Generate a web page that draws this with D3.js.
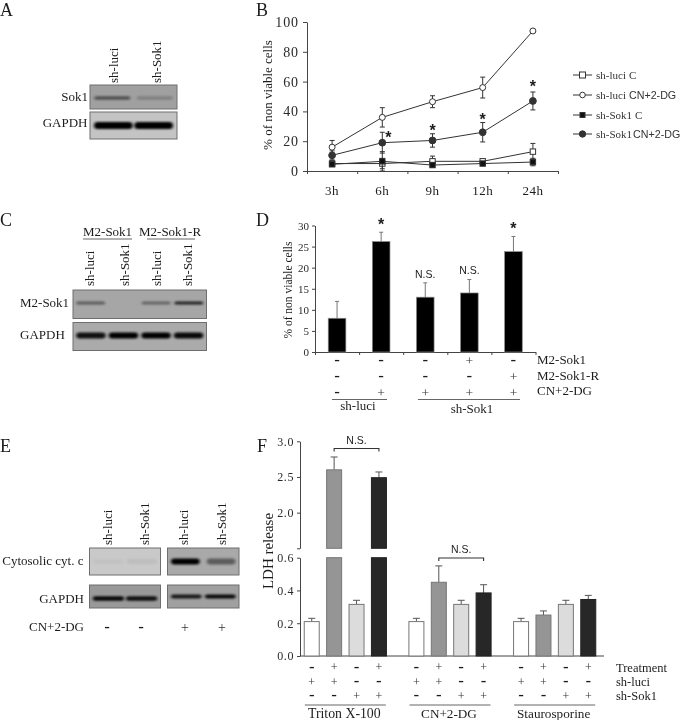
<!DOCTYPE html>
<html><head><meta charset="utf-8">
<script src="https://cdn.jsdelivr.net/npm/d3@7/dist/d3.min.js"></script>
<style>
html,body{margin:0;padding:0;background:#fff}
svg{display:block;filter:blur(0.35px)}
text{font-family:"Liberation Serif",serif;fill:#1c1c1c}
.sans{font-family:"Liberation Sans",sans-serif}
.axis path,.axis line{stroke:#444;stroke-width:1;fill:none}
.axis text{font-family:"Liberation Serif",serif;fill:#2a2a2a}
</style></head><body>
<script>
// ---------- Panel B data ----------
const hours = ["3h","6h","9h","12h","24h"];
const luciCtrl = [5,5,6.5,6.5,13];
const luciCtrlErr = [2,3.5,3.5,1.5,5.5];
const luciTreat = [16,36,46.5,56,94];
const luciTreatErr = [4.5,6.5,4,7,0.6];
const sokCtrl = [4.5,6.5,4,5,6];
const sokCtrlErr = [1.5,6.5,1.5,1,2.5];
const sokTreat = [10.5,19,20.5,26,47];
const sokTreatErr = [3,7,4.5,6.5,6];
const starsB = [null,24.8,29.6,37,59];
const legendB = ["sh-luci C","sh-luci CN+2-DG","sh-Sok1 C","sh-Sok1 CN+2-DG"];
// ---------- Panel D data ----------
const barsD = [8,26.2,13,14,23.8];
const errTopD = [12,28.4,16.4,17.2,27.4];
const marksD = ["","*","N.S.","N.S.","*"];
const rowM2 = ["-","-","-","+","-"];
const rowM2R = ["-","-","-","-","+"];
const rowCn = ["-","+","+","+","+"];
// ---------- Panel F data ----------
const groupsF = ["Triton X-100","CN+2-DG","Staurosporine"];
const barsF = [[0.21,2.6,0.315,2.49],[0.21,0.45,0.315,0.385],[0.21,0.25,0.315,0.345]];
const errTopF = [[0.23,2.78,0.34,2.57],[0.23,0.55,0.34,0.435],[0.23,0.275,0.34,0.37]];
const fillsF = ["#ffffff","#959595","#dcdcdc","#272727"];
const rowTreat = ["-","+","-","+"];
const rowLuci = ["+","+","-","-"];
const rowSok = ["-","-","+","+"];
// ---------- Blot band intensities (0..1) ----------
const blotASok = [0.5,0.2];
const blotAGapdh = [1,1];
const blotCM2 = [0.45,0,0.4,0.8];
const blotCGapdh = [0.9,1,1,0.95];
const blotETop1 = [0.03,0.05];
const blotETop2 = [1,0.45];
const blotEGapdh1 = [0.95,0.9];
const blotEGapdh2 = [0.85,0.95];

const svg = d3.select("body").append("svg").attr("width",680).attr("height",720);
const defs = svg.append("defs");
defs.append("filter").attr("id","blur").attr("x","-20%").attr("y","-150%").attr("width","140%").attr("height","400%")
  .append("feGaussianBlur").attr("stdDeviation","1.8 1");

function label(t,x,y,o={}){
  const s = svg.append("text").attr("x",x).attr("y",y).text(t)
    .attr("font-size",o.size||13).attr("text-anchor",o.anchor||"start");
  if(o.sans) s.attr("class","sans");
  if(o.weight) s.attr("font-weight",o.weight);
  if(o.fill) s.style("fill",o.fill);
  return s;
}
function vlabel(t,x,y,o={}){
  return label(t,0,0,o).attr("x",null).attr("y",null).attr("transform",`translate(${x},${y}) rotate(-90)`);
}
function panel(t,x,y){ label(t,x,y,{size:18}); }
function sign(t,x,y,size){
  const s=size||12;
  if(t==="-") svg.append("text").attr("class","sans").attr("transform",`translate(${x},${y+2.7}) scale(1.7,1)`)
    .attr("text-anchor","middle").attr("font-size",10).attr("font-weight","bold").text("-");
  else svg.append("text").attr("x",x).attr("y",y+s*0.36).attr("text-anchor","middle")
    .attr("font-size",s).text("+").style("fill","#333");
}
function hline(x1,x2,y,c){ svg.append("line").attr("x1",x1).attr("x2",x2).attr("y1",y).attr("y2",y).attr("stroke",c||"#666").attr("stroke-width",1); }

let clipN=0;
function blot(vals,x0,x1,y0,y1,bg,bandY,bandH,pad){
  const g = svg.append("g");
  const id="c"+(clipN++);
  defs.append("clipPath").attr("id",id).append("rect").attr("x",x0).attr("y",y0).attr("width",x1-x0).attr("height",y1-y0);
  g.append("rect").attr("x",x0).attr("y",y0).attr("width",x1-x0).attr("height",y1-y0).attr("fill",bg)
    .attr("stroke","#6e6e6e").attr("stroke-width",1);
  const lanes = d3.scaleBand().domain(d3.range(vals.length)).range([x0,x1]).paddingInner(pad===undefined?0.12:pad).paddingOuter(0.1);
  g.append("g").attr("clip-path",`url(#${id})`).selectAll("rect").data(vals).join("rect")
    .attr("x",(d,i)=>lanes(i)).attr("width",lanes.bandwidth())
    .attr("y",bandY-bandH/2).attr("height",bandH).attr("rx",bandH/2)
    .attr("fill","#050505").attr("opacity",d=>d).attr("filter","url(#blur)");
}

// ---------- Panel A ----------
panel("A",0,16);
vlabel("sh-luci",118,83); vlabel("sh-Sok1",161,83);
label("Sok1",88,101,{anchor:"end"}); label("GAPDH",87.5,127,{anchor:"end"});
blot(blotASok,90,177,85,109,"#a0a0a0",98,3.5,0.15);
blot(blotAGapdh,90,177,112,139,"#c4c4c4",125.5,7,0.04);

// ---------- Panel B ----------
panel("B",256,16);
{
  const xB = d3.scaleBand().domain(hours).range([307,558]);
  const edges = d3.scaleLinear().domain([0,hours.length]).range([307,558]);
  const yB = d3.scaleLinear().domain([0,100]).range([171,22]);
  const ax = svg.append("g").attr("class","axis").attr("transform","translate(307,0)")
    .call(d3.axisLeft(yB).tickValues([0,20,40,60,80,100]).tickSize(4).tickSizeOuter(0));
  ax.selectAll("text").attr("font-size",14).attr("letter-spacing",0.9).attr("dx",-1);
  svg.append("g").attr("class","axis").attr("transform","translate(0,171)")
    .call(d3.axisBottom(edges).tickValues(d3.range(hours.length+1)).tickFormat("").tickSize(3).tickSizeOuter(0));
  hours.forEach(h=>label(h,xB(h)+xB.bandwidth()/2,195,{anchor:"middle",size:13}).attr("letter-spacing",0.5));
  vlabel("% of non viable cells",272,95,{anchor:"middle",size:13});
  const cx=h=>xB(h)+xB.bandwidth()/2;
  const series=[
    {v:luciCtrl,e:luciCtrlErr,shape:"s",fill:"#fff"},
    {v:sokCtrl,e:sokCtrlErr,shape:"s",fill:"#111"},
    {v:luciTreat,e:luciTreatErr,shape:"c",fill:"#fff"},
    {v:sokTreat,e:sokTreatErr,shape:"c",fill:"#333"}];
  const line=d3.line().x(d=>cx(d.h)).y(d=>yB(d.v));
  series.forEach(s=>{
    const pts=hours.map((h,i)=>({h,v:s.v[i],e:s.e[i]}));
    const g=svg.append("g");
    g.selectAll(".eb").data(pts).join("path").attr("fill","none").attr("stroke","#333")
      .attr("d",d=>`M${cx(d.h)},${yB(d.v+d.e)}V${yB(d.v-d.e)}M${cx(d.h)-2.5},${yB(d.v+d.e)}h5M${cx(d.h)-2.5},${yB(d.v-d.e)}h5`);
    g.append("path").attr("d",line(pts)).attr("fill","none").attr("stroke","#333");
    if(s.shape==="c") g.selectAll("circle").data(pts).join("circle")
      .attr("cx",d=>cx(d.h)).attr("cy",d=>yB(d.v)).attr("r",s.fill==="#fff"?3:3.4).attr("fill",s.fill).attr("stroke","#333");
    else g.selectAll("rect").data(pts).join("rect")
      .attr("x",d=>cx(d.h)-2.7).attr("y",d=>yB(d.v)-2.7).attr("width",5.4).attr("height",5.4).attr("fill",s.fill).attr("stroke","#333");
  });
  starsB.forEach((s,i)=>{ if(s!==null) svg.append("text").attr("class","sans").attr("x",cx(hours[i])+(i===1?6:0)).attr("y",yB(s)+9)
    .attr("text-anchor","middle").attr("font-size",16).attr("font-weight","bold").text("*"); });
  // legend
  const ly=[75,95,115,134];
  const shapes=[{shape:"s",fill:"#fff"},{shape:"c",fill:"#fff"},{shape:"s",fill:"#111"},{shape:"c",fill:"#333"}];
  legendB.forEach((t,i)=>{
    const y=ly[i];
    svg.append("line").attr("x1",573).attr("x2",592).attr("y1",y).attr("y2",y).attr("stroke","#333");
    const sh=shapes[i];
    if(sh.shape==="c") svg.append("circle").attr("cx",582.5).attr("cy",y).attr("r",sh.fill==="#fff"?2.8:3.2).attr("fill",sh.fill).attr("stroke","#333");
    else svg.append("rect").attr("x",i==0?579.5:580).attr("y",y-(i==0?3:2.5)).attr("width",i==0?6:5).attr("height",i==0?6:5).attr("fill",sh.fill).attr("stroke","#333");
    const [a,b]=[t.slice(0,t.indexOf(" ")),t.slice(t.indexOf(" ")+1)];
    const tx=svg.append("text").attr("x",596).attr("y",y+3.5).attr("font-size",11).style("fill","#333");
    tx.append("tspan").text(a);
    if(b==="C") tx.append("tspan").attr("dx",3).text(b);
    else tx.append("tspan").attr("class","sans").attr("dx",i===3?1:3).attr("font-size",10.7).text(b);
  });
}

// ---------- Panel C ----------
panel("C",0,226);
label("M2-Sok1",83,236); label("M2-Sok1-R",139,236);
hline(83,132,239); hline(147,195,239);
vlabel("sh-luci",94,286); vlabel("sh-Sok1",129,286); vlabel("sh-luci",161,286); vlabel("sh-Sok1",192,286);
label("M2-Sok1",20,307); label("GAPDH",20,339);
blot(blotCM2,73,206.5,290,318.5,"#a6a6a6",303,3.2,0.12);
blot(blotCGapdh,73,206.5,322.5,350.5,"#ababab",335.5,6,0.1);

// ---------- Panel D ----------
panel("D",256,226);
{
  const n=barsD.length;
  const xD=d3.scaleBand().domain(d3.range(n)).range([315,535.5]).paddingInner(0.6).paddingOuter(0.3);
  const cx=i=>xD(i)+xD.bandwidth()/2;
  const edges=d3.scaleLinear().domain([0,n]).range([315,535.5]);
  const yD=d3.scaleLinear().domain([0,30]).range([352,225.5]);
  const ax=svg.append("g").attr("class","axis").attr("transform","translate(315,0)")
    .call(d3.axisLeft(yD).tickValues(d3.range(0,31,5)).tickSize(3).tickSizeOuter(0));
  ax.selectAll("text").attr("font-size",11);
  svg.append("g").attr("class","axis").attr("transform","translate(0,352)")
    .call(d3.axisBottom(edges).tickValues(d3.range(n+1)).tickFormat("").tickSize(3).tickSizeOuter(0));
  vlabel("% of non viable cells",292,290,{anchor:"middle",size:11.5});
  svg.selectAll(".ebd").data(barsD).join("path").attr("fill","none").attr("stroke","#777")
    .attr("d",(d,i)=>`M${cx(i)},${yD(d)}V${yD(errTopD[i])}M${cx(i)-2},${yD(errTopD[i])}h4`);
  svg.selectAll(".bard").data(barsD).join("rect").attr("x",(d,i)=>xD(i)).attr("width",xD.bandwidth())
    .attr("y",d=>yD(d)).attr("height",d=>yD(0)-yD(d)).attr("fill","#000").attr("stroke","#8a8a8a").attr("stroke-width",0.7);
  marksD.forEach((m,i)=>{
    if(m==="*") svg.append("text").attr("class","sans").attr("x",cx(i)).attr("y",yD(errTopD[i])-2.5).attr("text-anchor","middle").attr("font-size",16).attr("font-weight","bold").text("*");
    else if(m) svg.append("text").attr("class","sans").attr("x",cx(i)).attr("y",yD(errTopD[i])-5).attr("text-anchor","middle").attr("font-size",10.5).text(m);
  });
  [[rowM2,360],[rowM2R,376],[rowCn,392]].forEach(([r,y])=>r.forEach((t,i)=>sign(t,cx(i),y,13.5)));
  label("M2-Sok1",537,364); label("M2-Sok1-R",537,380); label("CN+2-DG",537,395);
  hline(332,387,399.5); hline(418,520,399.5);
  label("sh-luci",358,410,{anchor:"middle"}); label("sh-Sok1",472,413,{anchor:"middle"});
}

// ---------- Panel E ----------
panel("E",0,452);
vlabel("sh-luci",112,545); vlabel("sh-Sok1",149,545); vlabel("sh-luci",188,545); vlabel("sh-Sok1",226,545);
label("Cytosolic cyt. c",83.5,565,{anchor:"end"}); label("GAPDH",84,603,{anchor:"end"}); label("CN+2-DG",84,631,{anchor:"end"});
blot(blotETop1,89.5,160.5,548,575,"#c9c9c9",561.5,5,0.1);
blot(blotETop2,167.5,239,548,575,"#a9a9a9",561.5,6,0.2);
blot(blotEGapdh1,89.5,160.5,585,608,"#999999",598.5,4.5,0.06);
blot(blotEGapdh2,167.5,239,585,608,"#a0a0a0",596.5,4,0.1);
["-","-","+","+"].forEach((t,i)=>sign(t,[107,141,185,222][i],627,14));

// ---------- Panel F ----------
panel("F",257,452);
{
  const xG=d3.scaleBand().domain(groupsF).range([293,607]);
  const xI=d3.scaleBand().domain(d3.range(4)).range([-44.8,44.8]).paddingInner(0.33).paddingOuter(0.165);
  const bx=(g,i)=>xG(g)+xG.bandwidth()/2+xI(i);
  const bc=(g,i)=>bx(g,i)+xI.bandwidth()/2;
  const yLo=d3.scaleLinear().domain([0,0.6]).range([656,557.7]);
  const yHi=d3.scaleLinear().domain([1.5,3]).range([548.3,441.3]);
  const yAny=v=>v>0.6?yHi(v):yLo(v);
  const a1=svg.append("g").attr("class","axis").attr("transform","translate(300,0)")
    .call(d3.axisLeft(yLo).tickValues([0,0.2,0.4,0.6]).tickFormat(d3.format(".1f")).tickSize(3).tickSizeOuter(0));
  const a2=svg.append("g").attr("class","axis").attr("transform","translate(300,0)")
    .call(d3.axisLeft(yHi).tickValues([1.5,2,2.5,3]).tickFormat(d=>d===1.5?"":d3.format(".1f")(d)).tickSize(3).tickSizeOuter(0));
  [a1,a2].forEach(a=>a.selectAll("text").attr("font-size",12).attr("letter-spacing",0.6));
  hline(300,604,656,"#444");
  vlabel("LDH release",273,551,{anchor:"middle",size:15});
  groupsF.forEach((g,gi)=>{
    const G=svg.append("g");
    barsF[gi].forEach((v,i)=>{
      const x=bx(g,i),w=xI.bandwidth(),t=errTopF[gi][i],c=x+w/2;
      G.append("path").attr("fill","none").attr("stroke","#555")
        .attr("d",`M${c},${yAny(v)}V${yAny(t)}M${c-3.5},${yAny(t)}h7`);
      const st=i===3?"#222":"#777";
      if(v>0.6){
        G.append("rect").attr("x",x).attr("width",w).attr("y",yHi(v)).attr("height",yHi(1.5)-yHi(v)).attr("fill",fillsF[i]).attr("stroke",st);
        G.append("rect").attr("x",x).attr("width",w).attr("y",yLo(0.6)).attr("height",yLo(0)-yLo(0.6)).attr("fill",fillsF[i]).attr("stroke",st);
      } else {
        G.append("rect").attr("x",x).attr("width",w).attr("y",yLo(v)).attr("height",yLo(0)-yLo(v)).attr("fill",fillsF[i]).attr("stroke",st);
      }
    });
    [[rowTreat,667],[rowLuci,681.5],[rowSok,695.5]].forEach(([r,y])=>r.forEach((t,i)=>sign(t,bc(g,i),y,12)));
    const c=xG(g)+xG.bandwidth()/2;
    hline(c-40.5,c+40.5,705);
    label(g,c-1,717.5,{anchor:"middle",size:g===groupsF[0]?13.8:13.2});
    if(gi<2){
      const yb=gi===0?448.5:558;
      svg.append("path").attr("fill","none").attr("stroke","#333").attr("stroke-width",1.1)
        .attr("d",`M${bc(g,1)},${yb+3}V${yb}H${bc(g,3)}V${yb+3}`);
      label("N.S.",(bc(g,1)+bc(g,3))/2,yb-5,{anchor:"middle",sans:true,size:10.5});
    }
  });
  label("Treatment",616,671.5,{size:12.5}); label("sh-luci",616,685.5,{size:12.5}); label("sh-Sok1",616,699.5,{size:12.5});
}
</script>
</body></html>
